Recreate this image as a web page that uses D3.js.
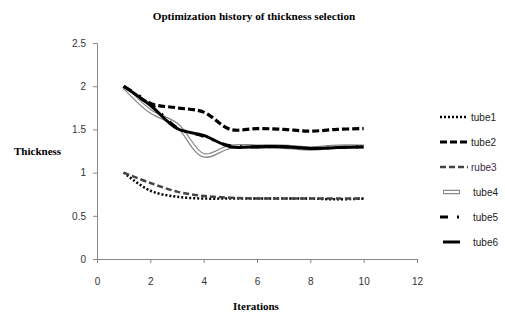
<!DOCTYPE html>
<html>
<head>
<meta charset="utf-8">
<script src="https://cdn.jsdelivr.net/npm/d3@7"></script>
<style>
  body { margin: 0; background: #fff; }
  svg { display: block; }
</style>
</head>
<body>
<script>
const iterations = [1, 2, 3, 4, 5, 6, 7, 8, 9, 10];
const tube1 = [1.0, 0.79, 0.72, 0.70, 0.70, 0.70, 0.70, 0.70, 0.69, 0.70];
const tube2 = [2.0, 1.80, 1.75, 1.70, 1.50, 1.51, 1.50, 1.48, 1.50, 1.51];
const tube3 = [1.0, 0.88, 0.78, 0.73, 0.71, 0.70, 0.70, 0.70, 0.70, 0.70];
const tube4 = [2.0, 1.71, 1.55, 1.20, 1.30, 1.30, 1.30, 1.28, 1.30, 1.30];
const tube5 = [2.0, 1.80, 1.52, 1.42, 1.31, 1.30, 1.30, 1.28, 1.29, 1.30];
const tube6 = [2.0, 1.78, 1.51, 1.43, 1.30, 1.30, 1.30, 1.28, 1.29, 1.30];
const seriesNames = ['tube1', 'tube2', 'rube3', 'tube4', 'tube5', 'tube6'];
const xTicks = [0, 2, 4, 6, 8, 10, 12];
const yTicks = [0, 0.5, 1, 1.5, 2, 2.5];

const series = [
  {name: seriesNames[0], values: tube1, color: '#000', width: 2.5, dash: '2,2'},
  {name: seriesNames[1], values: tube2, color: '#000', width: 3.2, dash: '7,3'},
  {name: seriesNames[2], values: tube3, color: '#444', width: 2.5, dash: '6,3'},
  {name: seriesNames[3], values: tube4, color: '#888', width: 4.5, dash: null, hollow: true},
  {name: seriesNames[4], values: tube5, color: '#000', width: 3, dash: '9,9,2,9'},
  {name: seriesNames[5], values: tube6, color: '#000', width: 3, dash: null}
];

const width = 505, height = 316;
const svg = d3.select('body').append('svg')
    .attr('width', width)
    .attr('height', height);

const x = d3.scaleLinear().domain([0, 12]).range([97, 417]);
const y = d3.scaleLinear().domain([0, 2.5]).range([259, 43]);

// title and axis titles
svg.append('text')
    .attr('x', 254).attr('y', 20)
    .attr('text-anchor', 'middle')
    .style('font-family', '"Liberation Serif", serif')
    .style('font-weight', 'bold')
    .style('font-size', '11.2px')
    .text('Optimization history of thickness selection');

svg.append('text')
    .attr('x', 14).attr('y', 155)
    .style('font-family', '"Liberation Serif", serif')
    .style('font-weight', 'bold')
    .style('font-size', '11px')
    .text('Thickness');

svg.append('text')
    .attr('x', 256).attr('y', 310)
    .attr('text-anchor', 'middle')
    .style('font-family', '"Liberation Serif", serif')
    .style('font-weight', 'bold')
    .style('font-size', '11px')
    .text('Iterations');

// axes
const yAxis = svg.append('g')
    .attr('transform', `translate(${x(0)},0)`)
    .call(d3.axisLeft(y).tickValues(yTicks).tickSize(4).tickPadding(7)
        .tickFormat(d => d));
const xAxis = svg.append('g')
    .attr('transform', `translate(0,${y(0)})`)
    .call(d3.axisBottom(x).tickValues(xTicks).tickSize(4).tickPadding(15));

[xAxis, yAxis].forEach(g => {
  g.select('.domain').attr('stroke', '#888');
  g.selectAll('.tick line').attr('stroke', '#888');
  g.selectAll('.tick text')
      .attr('fill', '#333')
      .style('font-family', '"Liberation Sans", Arial, sans-serif')
      .style('font-size', '10px');
});

const line = d3.line()
    .x((d, i) => x(iterations[i]))
    .y(d => y(d))
    .curve(d3.curveCatmullRom.alpha(0.5));

const plot = svg.append('g');
series.forEach(s => {
  plot.append('path')
      .attr('d', line(s.values))
      .attr('fill', 'none')
      .attr('stroke', s.color)
      .attr('stroke-width', s.width)
      .attr('stroke-dasharray', s.dash);
  if (s.hollow) {
    plot.append('path')
        .attr('d', line(s.values))
        .attr('fill', 'none')
        .attr('stroke', '#fff')
        .attr('stroke-width', 2);
  }
});

// legend
const legend = svg.append('g');
series.forEach((s, i) => {
  const ly = 117 + i * 25;
  const x0 = s.hollow || !s.dash ? 443 : 440;
  const x1 = s.hollow || !s.dash ? 460 : 468;
  legend.append('line')
      .attr('x1', x0).attr('x2', x1)
      .attr('y1', ly).attr('y2', ly)
      .attr('stroke', s.color)
      .attr('stroke-width', s.width)
      .attr('stroke-dasharray', s.name === 'tube5' ? '8,9,2,9' : s.dash);
  if (s.hollow) {
    legend.append('line')
        .attr('x1', x0 + 1).attr('x2', x1 - 1)
        .attr('y1', ly).attr('y2', ly)
        .attr('stroke', '#fff')
        .attr('stroke-width', 2);
  }
  legend.append('text')
      .attr('x', s.hollow || !s.dash || s.name === 'tube5' ? 473 : 471)
      .attr('y', ly + 3.5)
      .attr('fill', s.name === 'rube3' ? '#3a2a4a' : '#222')
      .style('font-family', '"Liberation Sans", Arial, sans-serif')
      .style('font-size', '10px')
      .text(s.name);
});
</script>
</body>
</html>
